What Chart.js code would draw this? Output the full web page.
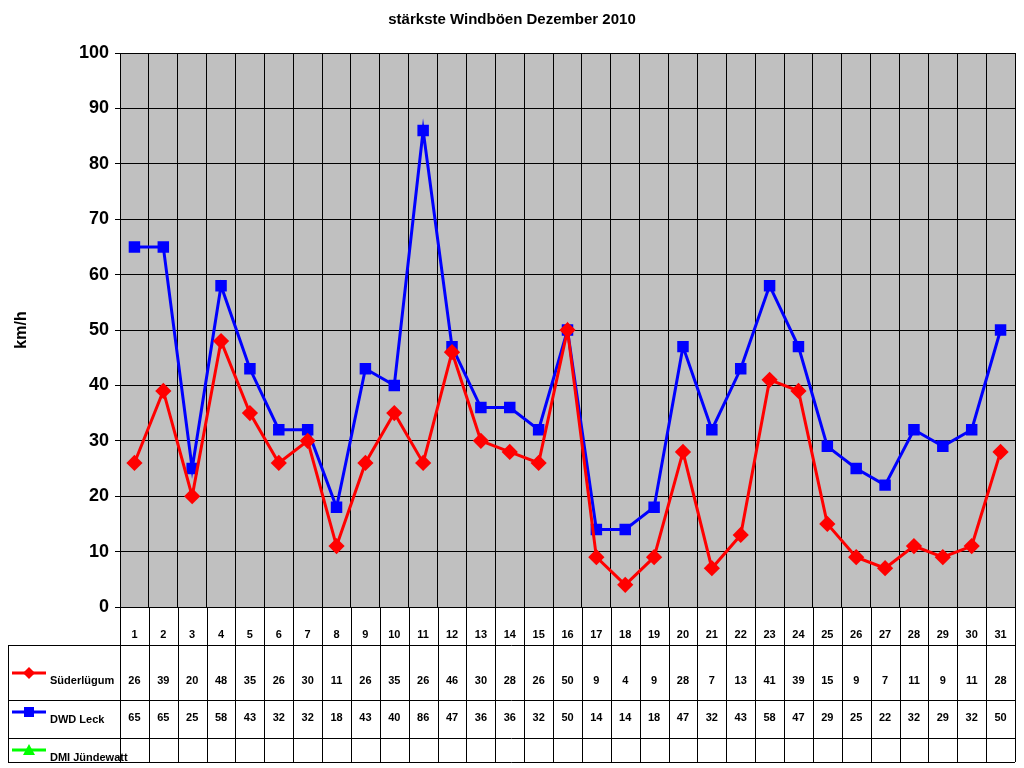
<!DOCTYPE html>
<html><head><meta charset="utf-8">
<script src="https://cdn.jsdelivr.net/npm/chart.js@4/dist/chart.umd.min.js"></script>
<style>html,body{margin:0;padding:0;background:#fff}#w{width:1024px;height:768px}</style>
</head><body><div id="w"><canvas id="c"></canvas></div>
<script>
const days = ['1','2','3','4','5','6','7','8','9','10','11','12','13','14','15','16','17','18','19','20','21','22','23','24','25','26','27','28','29','30','31'];
const suederluegum = [26,39,20,48,35,26,30,11,26,35,26,46,30,28,26,50,9,4,9,28,7,13,41,39,15,9,7,11,9,11,28];
const dwdLeck = [65,65,25,58,43,32,32,18,43,40,86,47,36,36,32,50,14,14,18,47,32,43,58,47,29,25,22,32,29,32,50];
const dmiJuendewatt = [];
const seriesNames = ['Süderlügum','DWD Leck','DMI Jündewatt'];
const seriesColors = ['#FF0000','#0000FF','#00FF00'];
const seriesMarkers = ['rectRot','rect','triangle'];
const yTicks = [0,10,20,30,40,50,60,70,80,90,100];
const title = 'stärkste Windböen Dezember 2010';

const tablePlugin = {
  id:'tbl',
  beforeDraw(chart){
    const {ctx, chartArea:a} = chart;
    ctx.save(); ctx.fillStyle='#C0C0C0'; ctx.fillRect(a.left,a.top,a.right-a.left,a.bottom-a.top); ctx.restore();
  },
  afterDraw(chart){
    const {ctx, chartArea:a, scales:{x}} = chart;
    const w = (a.right-a.left)/days.length;
    const rows=[a.bottom, a.bottom+38, a.bottom+93, a.bottom+131, a.bottom+155];
    ctx.save();
    ctx.strokeStyle='#000'; ctx.lineWidth=1;
    ctx.beginPath();
    for(let i=0;i<=days.length;i++){const px=Math.round(a.left+i*w)+0.5; ctx.moveTo(px,a.bottom); ctx.lineTo(px,rows[4]);}
    ctx.moveTo(8.5,rows[1]); ctx.lineTo(8.5,rows[4]);
    for(let r=1;r<5;r++){ctx.moveTo(8,Math.round(rows[r])+0.5); ctx.lineTo(a.right,Math.round(rows[r])+0.5);}
    ctx.stroke();
    ctx.fillStyle='#000'; ctx.font='bold 11px Arial'; ctx.textAlign='center'; ctx.textBaseline='middle';
    const data=[suederluegum,dwdLeck,dmiJuendewatt];
    days.forEach((d,i)=>{
      const cx=x.getPixelForValue(i);
      ctx.fillText(d,cx,rows[0]+28);
      data.forEach((s,k)=>{ if(s[i]!==undefined) ctx.fillText(String(s[i]),cx,rows[k+1]+(k===0?36:18)); });
    });
    ctx.textAlign='left'; ctx.font='bold 11px Arial';
    seriesNames.forEach((n,k)=>{
      const ly=[rows[1]+28,rows[2]+12,rows[3]+12][k];
      ctx.strokeStyle=seriesColors[k]; ctx.lineWidth=3;
      ctx.beginPath(); ctx.moveTo(12,ly); ctx.lineTo(46,ly); ctx.stroke();
      ctx.fillStyle=seriesColors[k];
      ctx.beginPath();
      if(k===0){ctx.moveTo(29,ly-6);ctx.lineTo(35,ly);ctx.lineTo(29,ly+6);ctx.lineTo(23,ly);}
      else if(k===1){ctx.rect(24,ly-5,10,10);}
      else {ctx.moveTo(29,ly-6);ctx.lineTo(35,ly+5);ctx.lineTo(23,ly+5);}
      ctx.fill();
      ctx.fillStyle='#000'; ctx.fillText(n,50,ly+8);
    });
    ctx.font='bold 15px Arial'; ctx.textAlign='center';
    ctx.fillText(title,512,20);
    ctx.translate(22,330); ctx.rotate(-Math.PI/2); ctx.font='bold 16px Arial';
    ctx.fillText('km/h',0,0);
    ctx.restore();
  }
};

new Chart(document.getElementById('c'),{
  type:'line',
  data:{labels:days,datasets:[
    {label:seriesNames[0],data:suederluegum,borderColor:seriesColors[0],backgroundColor:seriesColors[0],borderWidth:3,pointStyle:'rectRot',pointRadius:6,pointHoverRadius:6,tension:0},
    {label:seriesNames[1],data:dwdLeck,borderColor:seriesColors[1],backgroundColor:seriesColors[1],borderWidth:3,pointStyle:'rect',pointRadius:6,pointHoverRadius:6,tension:0},
    {label:seriesNames[2],data:dmiJuendewatt,borderColor:seriesColors[2],backgroundColor:seriesColors[2],pointStyle:'triangle'}
  ]},
  options:{responsive:true,maintainAspectRatio:false,animation:false,
    layout:{padding:{top:53,right:4,bottom:161,left:0}},
    plugins:{legend:{display:false},title:{display:false},tooltip:{enabled:false}},
    scales:{
      x:{offset:true,grid:{offset:true,color:'#000',drawTicks:false},border:{color:'#000'},ticks:{display:false}},
      y:{min:0,max:100,afterFit(s){s.width=120;},
        grid:{color:'#000',drawTicks:true,tickLength:5},border:{color:'#000'},
        afterBuildTicks(s){s.ticks=yTicks.map(v=>({value:v}));},
        ticks:{color:'#000',font:{family:'Arial',size:18,weight:'bold'},padding:6}}
    }},
  plugins:[tablePlugin]
});
</script></body></html>
